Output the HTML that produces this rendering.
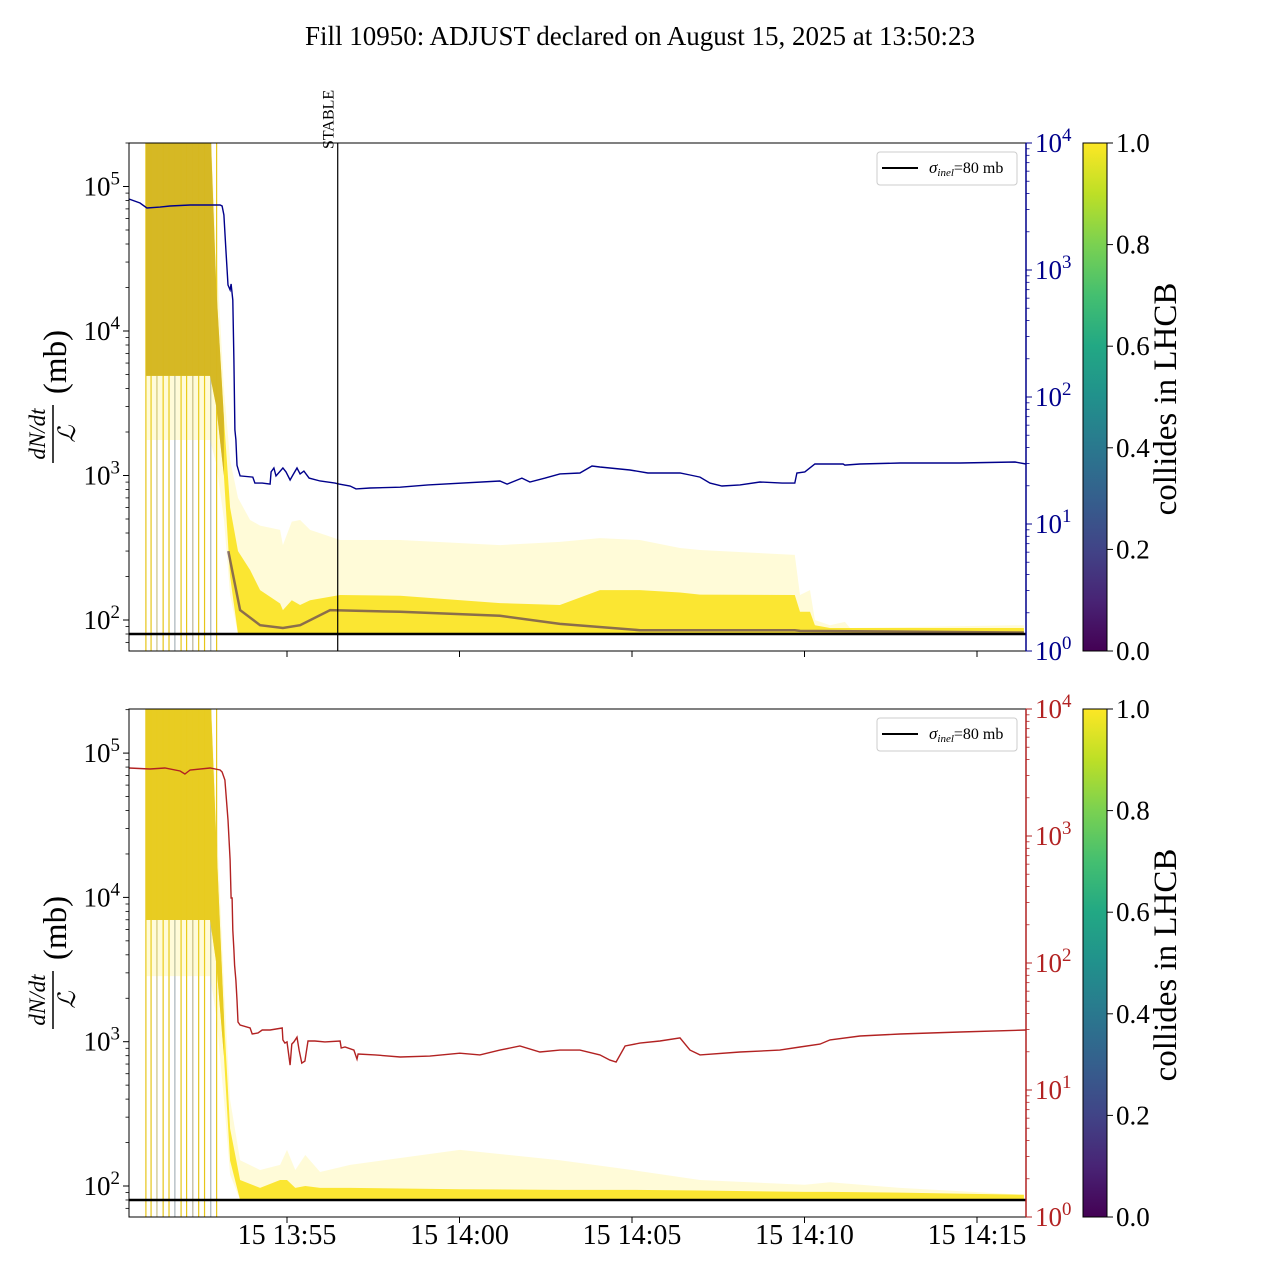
<!DOCTYPE html>
<html><head><meta charset="utf-8"><style>
html,body{margin:0;padding:0;background:#fff}
svg{display:block}
text{font-family:"Liberation Serif",serif}
</style></head><body>
<svg id="chart" width="1280" height="1280" xmlns="http://www.w3.org/2000/svg">
<defs>
<linearGradient id="viridis" x1="0" y1="1" x2="0" y2="0">
<stop offset="0" stop-color="#440154"/><stop offset="0.1" stop-color="#482475"/><stop offset="0.2" stop-color="#414487"/><stop offset="0.3" stop-color="#355f8d"/><stop offset="0.4" stop-color="#2a788e"/><stop offset="0.5" stop-color="#21918c"/><stop offset="0.6" stop-color="#22a884"/><stop offset="0.7" stop-color="#44bf70"/><stop offset="0.8" stop-color="#7ad151"/><stop offset="0.9" stop-color="#bddf26"/><stop offset="1" stop-color="#fde725"/>
</linearGradient>
<clipPath id="clipTop"><rect x="129" y="143" width="897" height="508"/></clipPath>
<clipPath id="clipBot"><rect x="129" y="709" width="897" height="508"/></clipPath>
</defs>
<text x="640" y="45" font-size="27" text-anchor="middle">Fill 10950: ADJUST declared on August 15, 2025 at 13:50:23</text>
</svg>
<script>
// ---- data (time in minutes after 13:50:00) ----
const xTickMinutes = [5, 10, 15, 20, 25];
const xTickLabels = ["15 13:55", "15 14:00", "15 14:05", "15 14:10", "15 14:15"];
const vlineTimes = [0.91, 1.06, 1.23, 1.41, 1.58, 1.75, 1.93, 2.09, 2.27, 2.44, 2.61, 2.79, 2.96];
const vlineColors = ["#e6c619","#e6c619","#c9c08a","#e6c619","#e6c619","#a9b4b8","#e6c619","#e6c619","#b9b49a","#e6c619","#e6c619","#a9b4b8","#e6c619"];

const blueT = [0.42,0.74,0.94,1.32,1.61,2.19,2.77,3.06,3.12,3.17,3.23,3.29,3.35,3.38,3.43,3.46,3.49,3.52,3.55,3.64,4.01,4.07,4.28,4.51,4.54,4.62,4.68,4.88,4.97,5.09,5.17,5.29,5.38,5.49,5.64,5.96,6.39,6.51,6.83,7.00,7.41,8.28,9.09,11.17,11.38,11.81,12.04,12.48,12.91,13.49,13.84,14.07,14.94,15.46,16.39,16.68,16.97,17.26,17.61,18.13,18.71,19.35,19.72,19.78,20.01,20.30,20.74,20.97,21.12,21.17,21.61,22.77,24.51,26.10,26.42];
const blueV = [3620,3370,3080,3130,3190,3250,3250,3250,3190,2710,1440,762,697,776,580,196,55,46,29,23.9,23.4,21.0,21.0,20.6,25.7,27.6,23.9,27.6,25.7,22.2,24.3,27.6,24.8,26.1,23.0,21.8,21.0,20.6,19.9,18.9,19.2,19.5,20.3,21.8,20.6,23.0,21.4,23.0,24.8,25.2,28.6,28.1,26.6,25.2,25.2,24.3,23.4,21.0,19.9,20.3,21.4,21.0,21.0,25.2,25.7,29.7,29.7,29.7,29.7,29.1,29.7,30.2,30.2,30.8,29.7];

const redT = [0.42,1.03,1.46,1.90,2.04,2.19,2.77,3.06,3.12,3.20,3.29,3.35,3.38,3.41,3.43,3.46,3.48,3.52,3.55,3.58,3.64,3.93,3.99,4.16,4.28,4.51,4.86,4.88,4.94,5.00,5.09,5.14,5.20,5.29,5.35,5.43,5.52,5.61,5.81,6.10,6.54,6.57,6.68,6.94,7.03,7.06,7.55,8.28,9.14,10.01,10.59,11.17,11.75,12.33,12.91,13.49,14.07,14.36,14.54,14.80,15.23,15.81,16.39,16.68,16.97,18.13,19.28,19.87,20.45,20.74,21.61,22.77,24.51,26.42];
const redV = [3430,3370,3430,3250,3080,3310,3430,3310,3190,2760,1340,648,325,325,182,127,96,73,51,34.3,32.5,30.8,27.6,28.1,29.7,29.7,30.8,24.8,23.4,23.9,15.7,23.0,23.9,26.1,20.6,16.3,16.9,24.3,24.3,23.9,24.3,21.4,21.8,20.6,17.5,19.2,18.9,18.2,18.5,19.5,18.9,20.6,22.2,19.9,20.6,20.6,18.9,17.2,16.6,22.2,23.4,24.3,25.7,20.6,18.9,19.9,20.6,21.8,23.0,24.8,26.6,27.6,28.6,29.7];

// top panel yellow bundle envelopes
const bandTopT = [0.91,2.77,2.95,3.17,3.35,3.58,3.93,4.22,4.80,4.88,5.14,5.38,5.67,6.54,8.28,11.17,12.91,14.07,15.23,16.39,16.97,19.72,19.87,20.16,20.30,20.74,21.17,21.32,26.36];
const lightHiTop = [3e5,3e5,36000,4000,1280,700,492,450,420,330,480,492,420,358,358,330,347,369,358,315,305,282,149,161,100,92,97,88,92];
const lightLoTop = [1760,1760,1200,500,150,80,80,80,80,80,80,80,80,80,80,80,80,80,80,80,80,80,80,80,80,80,80,80,80];
const denseHiTop = [3e5,3e5,20000,2500,600,300,222,161,130,117,137,127,137,149,147,131,127,161,161,155,150,149,114,114,92,88,88,88,88];
const denseLoTop = [4890,4890,3000,1000,200,80,80,80,80,80,80,80,80,80,80,80,80,80,80,80,80,80,80,80,80,80,80,80,80];
const darkTopT = [3.30,3.64,4.22,4.88,5.38,6.25,8.28,11.17,12.91,15.23,19.72,19.87,26.36];
const darkTopV = [300,117,92,88,92,117,114,107,94,85,85,84,82];

// bottom panel yellow bundle envelopes
const bandBotT = [0.91,2.77,2.95,3.17,3.35,3.64,4.22,4.80,5.00,5.24,5.53,5.96,6.83,10.01,12.91,15.00,16.97,20.01,20.74,22.77,26.36];
const lightHiBot = [3e5,3e5,40000,2500,396,151,129,140,178,129,164,125,140,178,151,129,110,102,106,97,87];
const lightLoBot = [2850,2850,1500,400,120,80,80,80,80,80,80,80,80,80,80,80,80,80,80,80,80];
const denseHiBot = [3e5,3e5,25000,1500,250,110,97,110,110,97,100,97,97,95,94,94,93,91,91,90,87];
const denseLoBot = [6970,6970,3500,800,150,80,80,80,80,80,80,80,80,80,80,80,80,80,80,80,80];

const sigmaInel = 80;
const leftTicks = [100, 1000, 10000, 100000];
const rightTicks = [1, 10, 100, 1000, 10000];
const cbarTicks = [0.0, 0.2, 0.4, 0.6, 0.8, 1.0];

// ---- scales ----
const X0 = 129, X1 = 1026;
const xs = t => 287 + (t - 5) * 34.5;
const panels = [
  {name:'top', y0:143, y1:651, clip:'clipTop', rc:'#00008b', line:blueT, lineV:blueV, lineName:'lumi-line-blue',
   yL: v => 620 - (Math.log10(v) - 2) * 144.5, yR: v => 651 - Math.log10(v) * 127,
   bT: bandTopT, lh: lightHiTop, ll: lightLoTop, dh: denseHiTop, dl: denseLoTop, blockColor:'#c9a820', blockOp:0.75},
  {name:'bottom', y0:709, y1:1217, clip:'clipBot', rc:'#b22222', line:redT, lineV:redV, lineName:'lumi-line-red',
   yL: v => 1186 - (Math.log10(v) - 2) * 144.3, yR: v => 1217 - Math.log10(v) * 127,
   bT: bandBotT, lh: lightHiBot, ll: lightLoBot, dh: denseHiBot, dl: denseLoBot, blockColor:'#e3c51e', blockOp:0.8}
];

const svg = document.getElementById('chart');
const NS = 'http://www.w3.org/2000/svg';
function mk(tag, attrs, parent) {
  const e = document.createElementNS(NS, tag);
  for (const k in attrs) e.setAttribute(k, attrs[k]);
  (parent || svg).appendChild(e);
  return e;
}
function bandPath(T, hi, lo, yf) {
  let d = '';
  T.forEach((t, i) => { d += (i ? 'L' : 'M') + xs(t).toFixed(1) + ',' + yf(hi[i]).toFixed(1); });
  for (let i = T.length - 1; i >= 0; i--) d += 'L' + xs(T[i]).toFixed(1) + ',' + yf(lo[i]).toFixed(1);
  return d + 'Z';
}
function linePath(T, V, yf) {
  return T.map((t, i) => (i ? 'L' : 'M') + xs(t).toFixed(1) + ',' + yf(V[i]).toFixed(1)).join('');
}
function sup(parent, x, y, base, exp, color, anchor, size) {
  const t = mk('text', {x:x, y:y, 'font-size':size, fill:color, 'text-anchor':anchor}, parent);
  t.appendChild(document.createTextNode(base));
  const s = mk('tspan', {dy:-11, 'font-size':size*0.7}, t);
  s.textContent = exp;
  return t;
}

panels.forEach(p => {
  const g = mk('g', {'clip-path':'url(#' + p.clip + ')'});
  
  
  vlineTimes.forEach((t, i) => {
    const l = mk('line', {x1:xs(t), x2:xs(t), y1:p.y0, y2:p.y1, stroke:vlineColors[i], 'stroke-width':1.2}, g);
    
    
  });
  const lb = mk('path', {d:bandPath(p.bT, p.lh, p.ll, p.yL), fill:'#fde725', 'fill-opacity':0.18}, g);
  
  
  const db = mk('path', {d:bandPath(p.bT, p.dh, p.dl, p.yL), fill:'#fbe424', 'fill-opacity':0.92}, g);
  
  
  const bk = mk('path', {d:bandPath(p.bT.slice(0,4), p.dh.slice(0,4), p.dl.slice(0,4), p.yL), fill:p.blockColor, 'fill-opacity':p.blockOp}, g);
  
  
  if (p.name === 'top') {
    const dk = mk('path', {d:linePath(darkTopT, darkTopV, p.yL), fill:'none', stroke:'#5b3a55', 'stroke-width':2.5, 'stroke-opacity':0.7}, g);
    
    
  }
  const sl = mk('line', {x1:X0, x2:X1, y1:p.yL(sigmaInel), y2:p.yL(sigmaInel), stroke:'#000', 'stroke-width':2.5}, g);
  
  
  const ln = mk('path', {d:linePath(p.line, p.lineV, p.yR), fill:'none', stroke:p.rc, 'stroke-width':1.4}, g);
  
  

  const fr = mk('rect', {x:X0, y:p.y0, width:X1 - X0, height:p.y1 - p.y0, fill:'none', stroke:'#000', 'stroke-width':1});
  
  
  const ra = mk('line', {x1:X1, x2:X1, y1:p.y0, y2:p.y1, stroke:p.rc, 'stroke-width':1.5});
  
  

  const lg = mk('g', {});
  
  
  leftTicks.forEach(v => {
    const y = p.yL(v);
    mk('line', {x1:X0 - 6, x2:X0, y1:y, y2:y, stroke:'#000'}, lg);
    const e = Math.round(Math.log10(v));
    const tl = sup(lg, 120, y + 9, '10', String(e), '#000', 'end', 27);
    
    
  });
  for (let d = 10; d <= 100000; d *= 10) for (let m = 2; m <= 9; m++) {
    const y = p.yL(d * m);
    if (y > p.y0 && y < p.y1) mk('line', {x1:X0 - 3.5, x2:X0, y1:y, y2:y, stroke:'#000', 'stroke-width':0.8}, lg);
  }
  const rg = mk('g', {});
  
  
  rightTicks.forEach(v => {
    const y = p.yR(v);
    mk('line', {x1:X1, x2:X1 + 6, y1:y, y2:y, stroke:p.rc}, rg);
    const tl = sup(rg, 1035, y + 9, '10', String(Math.round(Math.log10(v))), p.rc, 'start', 27);
    
    
  });
  for (let d = 1; d < 10000; d *= 10) for (let m = 2; m <= 9; m++) {
    const y = p.yR(d * m);
    mk('line', {x1:X1, x2:X1 + 3.5, y1:y, y2:y, stroke:p.rc, 'stroke-width':0.8}, rg);
  }
  const xg = mk('g', {});
  
  
  xTickMinutes.forEach((t, i) => {
    mk('line', {x1:xs(t), x2:xs(t), y1:p.y1, y2:p.y1 + 6, stroke:'#000'}, xg);
    if (p.name === 'bottom') {
      const tl = mk('text', {x:xs(t), y:1244, 'font-size':28, 'text-anchor':'middle'}, xg);
      tl.textContent = xTickLabels[i];
      
      
    }
  });

  const cy = p.name === 'top' ? 434 : 1000;
  const yl = mk('g', {transform:'translate(53,' + cy + ') rotate(-90)'});
  
  
  const num = mk('text', {x:0, y:-8, 'font-size':23, 'font-style':'italic', 'text-anchor':'middle'}, yl);
  num.textContent = 'dN/dt';
  mk('line', {x1:-29, x2:29, y1:0, y2:0, stroke:'#000', 'stroke-width':1.5}, yl);
  const den = mk('text', {x:0, y:22, 'font-size':24, 'font-style':'italic', 'text-anchor':'middle'}, yl);
  den.textContent = 'ℒ';
  const mb = mk('text', {x:72, y:13, 'font-size':33, 'text-anchor':'middle'}, yl);
  mb.textContent = '(mb)';

  const lgd = mk('g', {});
  
  
  const ly = p.y0 + 9;
  mk('rect', {x:877, y:ly, width:140, height:33, rx:3, fill:'#fff', 'fill-opacity':0.8, stroke:'#ccc'}, lgd);
  mk('line', {x1:882, x2:918, y1:ly + 16, y2:ly + 16, stroke:'#000', 'stroke-width':2}, lgd);
  const lt = mk('text', {x:929, y:ly + 21, 'font-size':16}, lgd);
  const s1 = mk('tspan', {'font-style':'italic', 'font-size':17}, lt); s1.textContent = 'σ';
  const s2 = mk('tspan', {'font-style':'italic', 'font-size':11, dy:3}, lt); s2.textContent = 'inel';
  const s3 = mk('tspan', {dy:-3}, lt); s3.textContent = '=80 mb';

  const cb = mk('g', {});
  
  
  mk('rect', {x:1083, y:p.y0, width:24, height:p.y1 - p.y0, fill:'url(#viridis)', stroke:'#000', 'stroke-width':1}, cb);
  cbarTicks.forEach(v => {
    const y = p.y1 - v * (p.y1 - p.y0);
    mk('line', {x1:1107, x2:1113, y1:y, y2:y, stroke:'#000'}, cb);
    const t = mk('text', {x:1116, y:y + 9, 'font-size':27}, cb);
    t.textContent = v.toFixed(1);
    
    
  });
  const ct = mk('text', {x:0, y:0, 'font-size':33, 'text-anchor':'middle', transform:'translate(1176,' + (p.y0 + 256) + ') rotate(-90)'}, cb);
  ct.textContent = 'collides in LHCB';
  
  
});

const stableT = 6.47;
const st = mk('line', {x1:xs(stableT), x2:xs(stableT), y1:143, y2:651, stroke:'#000', 'stroke-width':1.2});


const stt = mk('text', {x:0, y:0, 'font-size':16, transform:'translate(' + (xs(stableT) - 4) + ',149) rotate(-90)'});
stt.textContent = 'STABLE';


</script>
</body></html>
